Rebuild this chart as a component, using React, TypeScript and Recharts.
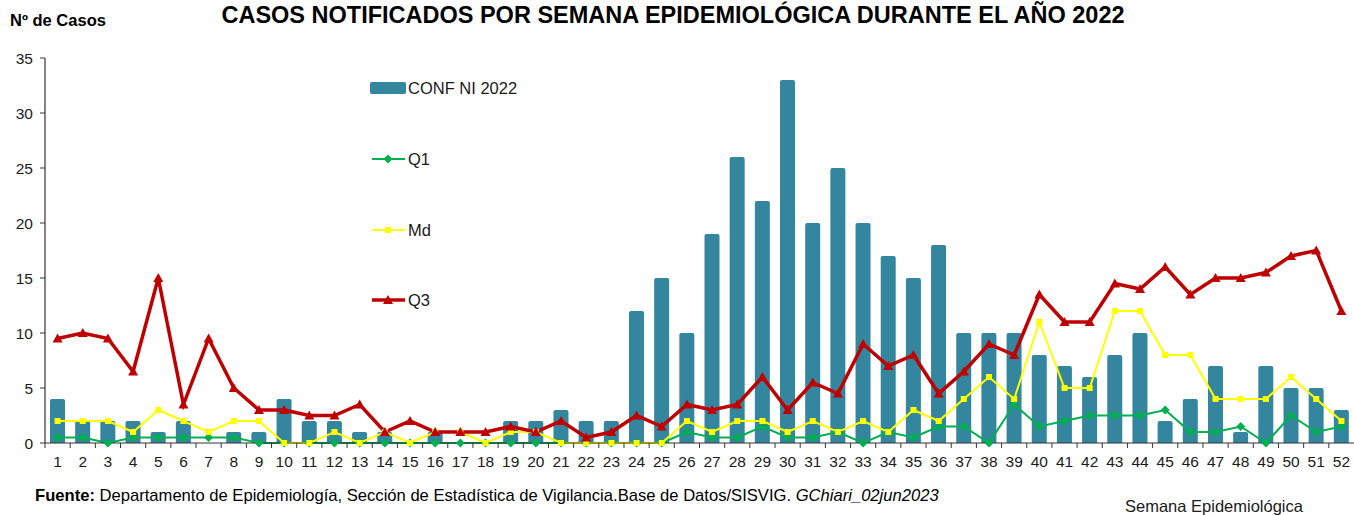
import React from 'react';
import { ComposedChart, Bar, Line, XAxis, YAxis } from 'recharts';

const weeks = [
  '1','2','3','4','5','6','7','8','9','10','11','12','13','14','15','16','17','18','19','20',
  '21','22','23','24','25','26','27','28','29','30','31','32','33','34','35','36','37','38','39','40',
  '41','42','43','44','45','46','47','48','49','50','51','52',
];
const confNi2022 = [
  4,2,2,2,1,2,0,1,1,4, 2,2,1,1,0,1,0,0,2,2, 3,2,2,12,15,10,19,26,22,33,
  20,25,20,17,15,18,10,10,10,8, 7,6,8,10,2,4,7,1,7,5, 5,3,
];
const q1 = [
  0.5,0.5,0,0.5,0.5,0.5,0.5,0.5,0,0, 0,0,0,0,0,0,0,0,0,0, 0,0,0,0,0,1,0.5,0.5,1.5,0.5,
  0.5,1,0,1,0.5,1.5,1.5,0,3.5,1.5, 2,2.5,2.5,2.5,3,1,1,1.5,0,2.5, 1,1.5,
];
const md = [
  2,2,2,1,3,2,1,2,2,0, 0,1,0,1,0,1,1,0,1,1, 0,0,0,0,0,2,1,2,2,1,
  2,1,2,1,3,2,4,6,4,11, 5,5,12,12,8,8,4,4,4,6, 4,2,
];
const q3 = [
  9.5,10,9.5,6.5,15,3.5,9.5,5,3,3, 2.5,2.5,3.5,1,2,1,1,1,1.5,1, 2,0.5,1,2.5,1.5,3.5,3,3.5,6,3,
  5.5,4.5,9,7,8,4.5,6.5,9,8,13.5, 11,11,14.5,14,16,13.5,15,15,15.5,17, 17.5,12,
];
const yTicks = [0, 5, 10, 15, 20, 25, 30, 35];

const data = weeks.map((w, i) => ({ week: w, conf: confNi2022[i], q1: q1[i], md: md[i], q3: q3[i] }));

const FONT = '"Liberation Sans", Arial, sans-serif';
const BAR_COLOR = '#33869d';
const Q1_COLOR = '#00B050';
const MD_COLOR = '#FFFF00';
const Q3_COLOR = '#C00000';
const AXIS_COLOR = '#333333';
const TEXT_COLOR = '#1a1a1a';

const diamondPath = (cx: number, cy: number, r: number) =>
  `M${cx},${cy - r}L${cx + r},${cy}L${cx},${cy + r}L${cx - r},${cy}Z`;
const trianglePath = (cx: number, cy: number, r: number) =>
  `M${cx},${cy - r}L${cx + r},${cy + r * 0.8}L${cx - r},${cy + r * 0.8}Z`;

const DiamondDot = (p: any) => {
  if (p.cx == null || p.cy == null) return <g key={p.key} />;
  return <path key={p.key} d={diamondPath(p.cx, p.cy, 4.5)} fill={Q1_COLOR} />;
};
const SquareDot = (p: any) => {
  if (p.cx == null || p.cy == null) return <g key={p.key} />;
  return <rect key={p.key} x={p.cx - 3} y={p.cy - 3} width={6} height={6} fill={MD_COLOR} />;
};
const TriangleDot = (p: any) => {
  if (p.cx == null || p.cy == null) return <g key={p.key} />;
  return <path key={p.key} d={trianglePath(p.cx, p.cy, 5)} fill={Q3_COLOR} />;
};

const XTick = (p: any) => {
  const { x, y, payload } = p;
  const half = payload && payload.offset ? payload.offset : 12.58;
  return (
    <g>
      <line x1={x - half} x2={x - half} y1={y} y2={y + 5} stroke={AXIS_COLOR} strokeWidth={1} />
      <text x={x} y={y + 24} textAnchor="middle" fontSize={15.5} fontFamily={FONT} fill={TEXT_COLOR}>
        {payload.value}
      </text>
    </g>
  );
};

const legendItems = [
  { name: 'CONF NI 2022', kind: 'bar', color: BAR_COLOR, cy: 88 },
  { name: 'Q1', kind: 'diamond', color: Q1_COLOR, cy: 159 },
  { name: 'Md', kind: 'square', color: MD_COLOR, cy: 230 },
  { name: 'Q3', kind: 'triangle', color: Q3_COLOR, cy: 300 },
];

export default function App() {
  return (
    <div style={{ position: 'absolute', left: 0, top: 0, width: 1354, height: 515, background: '#fff', overflow: 'hidden' }}>
      <ComposedChart
        width={1354}
        height={515}
        data={data}
        margin={{ top: 58, right: 0, bottom: 42, left: 0 }}
        barCategoryGap={0}
      >
        <XAxis
          dataKey="week"
          height={30}
          interval={0}
          axisLine={{ stroke: AXIS_COLOR, strokeWidth: 1.2 }}
          tickLine={false}
          tickSize={0}
          tickMargin={0}
          tick={<XTick />}
        />
        <YAxis
          width={45}
          domain={[0, 35]}
          ticks={yTicks}
          interval={0}
          axisLine={{ stroke: AXIS_COLOR, strokeWidth: 1.2 }}
          tickLine={{ stroke: AXIS_COLOR }}
          tickSize={5}
          tickMargin={7}
          tick={{ fontSize: 15.5, fontFamily: FONT, fill: TEXT_COLOR }}
        />
        <Bar dataKey="conf" name="CONF NI 2022" fill={BAR_COLOR} barSize={15} radius={[2, 2, 0, 0]} isAnimationActive={false} />
        <Line dataKey="q1" name="Q1" stroke={Q1_COLOR} strokeWidth={2} dot={DiamondDot} activeDot={false} isAnimationActive={false} />
        <Line dataKey="md" name="Md" stroke={MD_COLOR} strokeWidth={2} dot={SquareDot} activeDot={false} isAnimationActive={false} />
        <Line dataKey="q3" name="Q3" stroke={Q3_COLOR} strokeWidth={3.5} dot={TriangleDot} activeDot={false} isAnimationActive={false} />
      </ComposedChart>
      <svg width={1354} height={515} style={{ position: 'absolute', left: 0, top: 0, pointerEvents: 'none' }}>
        <text x={673} y={23} textAnchor="middle" fontSize={23.5} fontWeight="bold" fontFamily={FONT} fill="#000">
          CASOS NOTIFICADOS POR SEMANA EPIDEMIOLÓGICA DURANTE EL AÑO 2022
        </text>
        <text x={10} y={26} fontSize={16.5} fontWeight="bold" fontFamily={FONT} fill="#000">Nº de Casos</text>
        <text x={35} y={501} fontSize={16.6} fontFamily={FONT} fill="#000">
          <tspan fontWeight="bold">Fuente:</tspan>
          <tspan> Departamento de Epidemiología, Sección de Estadística de Vigilancia.Base de Datos/SISVIG. </tspan>
          <tspan fontStyle="italic">GChiari_02jun2023</tspan>
        </text>
        <text x={1125} y={512} fontSize={16.5} fontFamily={FONT} fill={TEXT_COLOR}>Semana Epidemiológica</text>
        {legendItems.map((it) => (
          <g key={it.name}>
            {it.kind === 'bar' ? (
              <rect x={370} y={it.cy - 6} width={36} height={12} rx={2} fill={it.color} />
            ) : (
              <line x1={372} x2={405} y1={it.cy} y2={it.cy} stroke={it.color} strokeWidth={it.kind === 'triangle' ? 3.5 : 2} />
            )}
            {it.kind === 'diamond' && <path d={diamondPath(388, it.cy, 4.5)} fill={it.color} />}
            {it.kind === 'square' && <rect x={385} y={it.cy - 3} width={6} height={6} fill={it.color} />}
            {it.kind === 'triangle' && <path d={trianglePath(388, it.cy, 5)} fill={it.color} />}
            <text x={408} y={it.cy + 5.5} fontSize={16.5} fontFamily={FONT} fill={TEXT_COLOR}>{it.name}</text>
          </g>
        ))}
      </svg>
    </div>
  );
}
